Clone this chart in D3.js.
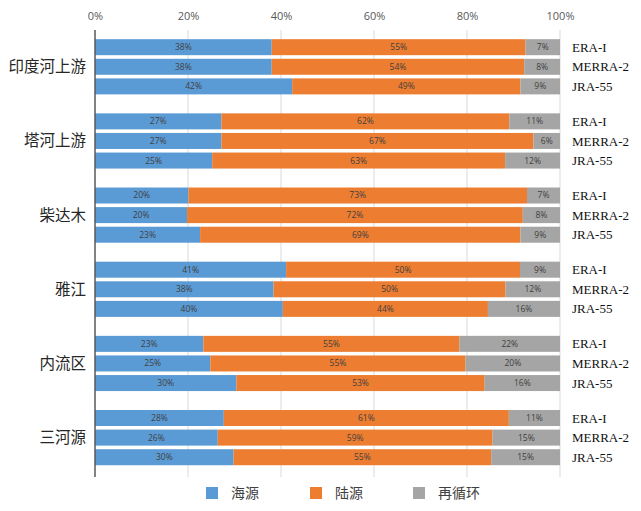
<!DOCTYPE html>
<html><head><meta charset="utf-8">
<script src="https://cdn.jsdelivr.net/npm/d3@7/dist/d3.min.js"></script>
<style>body{margin:0;background:#fff;} svg{display:block;}</style>
</head><body>
<svg id="chart" width="641" height="511"></svg>
<script>
const regions = ["印度河上游", "塔河上游", "柴达木", "雅江", "内流区", "三河源"];
const datasets = ["ERA-I", "MERRA-2", "JRA-55"];
const sources = ["海源", "陆源", "再循环"];
const xTicks = [0, 20, 40, 60, 80, 100];
// values per region, ordered ERA-I, MERRA-2, JRA-55 (percent)
const oceanic = [[38.0, 38.0, 42.4], [27.2, 27.2, 25.2], [20.1, 19.8, 22.6], [41.1, 38.4, 40.4], [23.3, 24.8, 30.4], [27.7, 26.4, 29.8]];
const terrestrial = [[54.6, 54.3, 49.1], [61.9, 67.1, 63.0], [72.8, 72.2, 68.9], [50.3, 49.9, 44.1], [55.1, 54.9, 53.4], [61.3, 59.1, 55.4]];
const recycled = [[7.4, 7.7, 8.5], [10.9, 5.7, 11.8], [7.1, 8.0, 8.5], [8.6, 11.7, 15.5], [21.6, 20.3, 16.2], [11.0, 14.5, 14.8]];
const colors = ["#5B9BD5", "#ED7D31", "#A5A5A5"];

const svg = d3.select("#chart");
const x = d3.scaleLinear().domain([0, 100]).range([95, 560]);
const yGroup = d3.scaleBand().domain(regions).range([29.7, 474.7]).paddingInner(0).paddingOuter(0);
const pitch = 19.6, barH = 16;

// gridlines
svg.append("g").selectAll("line").data(xTicks.filter(d => d > 0)).join("line")
  .attr("x1", d => x(d)).attr("x2", d => x(d)).attr("y1", 30).attr("y2", 477)
  .attr("stroke", "#d9d9d9").attr("stroke-width", 1);

// top axis labels
const ax = svg.append("g").attr("transform", "translate(0,20)")
  .call(d3.axisTop(x).tickValues(xTicks).tickFormat(d => d + "%").tickSize(0).tickPadding(0));
ax.select(".domain").remove();
ax.selectAll("text").attr("font-family", "Open Sans, Liberation Sans, sans-serif").attr("font-size", 11).attr("fill", "#595959");

const rows = [];
regions.forEach((r, gi) => {
  datasets.forEach((ds, di) => {
    const vals = [oceanic[gi][di], terrestrial[gi][di], recycled[gi][di]];
    let acc = 0;
    vals.forEach((v, si) => {
      rows.push({r, ds, di, si, x0: acc, x1: acc + v, v});
      acc += v;
    });
  });
});
const yc = d => yGroup(d.r) + yGroup.bandwidth() / 2 + (d.di - 1) * pitch;

svg.append("g").selectAll("rect").data(rows).join("rect")
  .attr("x", d => x(d.x0)).attr("width", d => x(d.x1) - x(d.x0))
  .attr("y", d => yc(d) - barH / 2).attr("height", barH)
  .attr("fill", d => colors[d.si]);

svg.append("g").selectAll("text").data(rows).join("text")
  .attr("x", d => (x(d.x0) + x(d.x1)) / 2).attr("y", d => yc(d))
  .attr("dy", "0.35em").attr("text-anchor", "middle")
  .attr("font-family", "Open Sans, Liberation Sans, sans-serif").attr("font-size", 8.5)
  .attr("fill", "#404040")
  .text(d => Math.round(d.v) + "%");

// left axis line
svg.append("line").attr("x1", 95).attr("x2", 95).attr("y1", 30).attr("y2", 477)
  .attr("stroke", "#595959").attr("stroke-width", 1.5);

// region labels
svg.append("g").selectAll("text").data(regions).join("text")
  .attr("x", 86).attr("y", d => yGroup(d) + yGroup.bandwidth() / 2)
  .attr("dy", "0.35em").attr("text-anchor", "end")
  .attr("font-family", "Noto Sans CJK SC, sans-serif").attr("font-size", 15.5).attr("fill", "#262626")
  .text(d => d);

// dataset labels
const dsRows = [];
regions.forEach(r => datasets.forEach((ds, di) => dsRows.push({r, ds, di})));
svg.append("g").selectAll("text").data(dsRows).join("text")
  .attr("x", 572).attr("y", d => yc(d)).attr("dy", "0.35em")
  .attr("font-family", "Liberation Serif, Times New Roman, serif").attr("font-size", 13).attr("fill", "#111")
  .text(d => d.ds);

// legend
const legX = [206, 310, 413];
const leg = svg.append("g").selectAll("g").data(sources).join("g")
  .attr("transform", (d, i) => `translate(${legX[i]},487)`);
leg.append("rect").attr("width", 12).attr("height", 12).attr("fill", (d, i) => colors[i]);
leg.append("text").attr("x", 25).attr("y", 6).attr("dy", "0.35em")
  .attr("font-family", "Noto Sans CJK SC, sans-serif").attr("font-size", 14).attr("fill", "#404040")
  .text(d => d);
</script>
</body></html>
